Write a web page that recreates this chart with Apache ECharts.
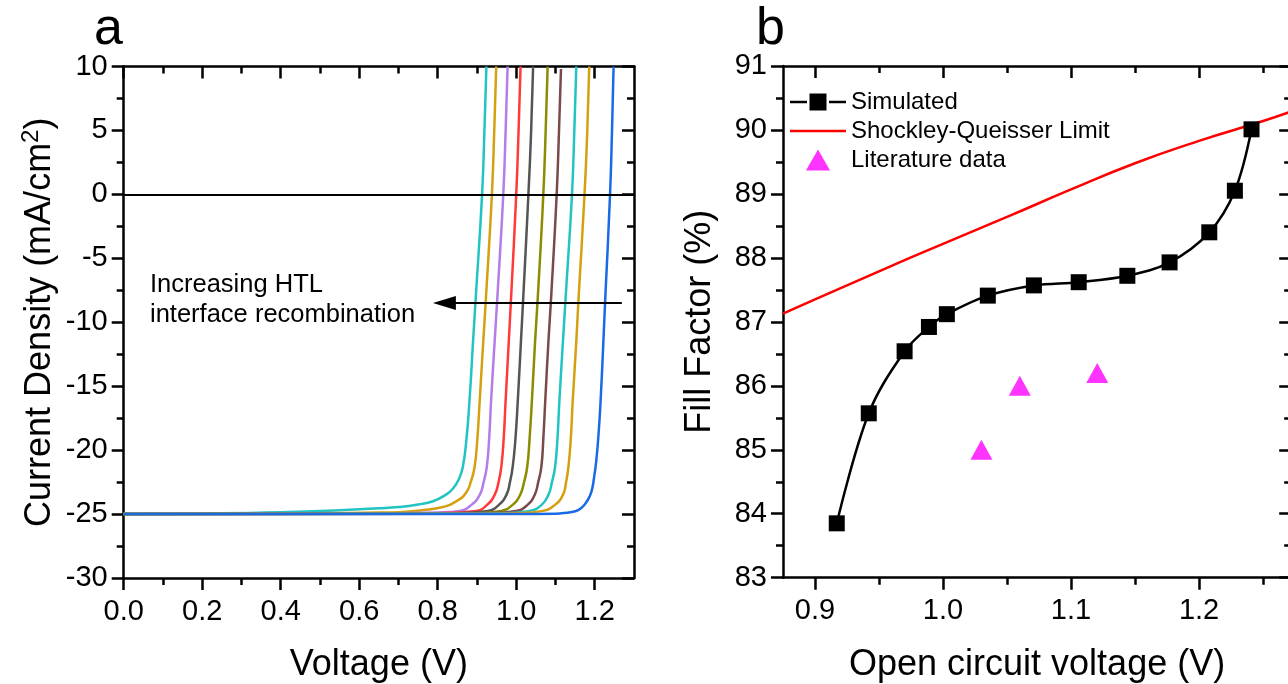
<!DOCTYPE html>
<html lang="en">
<head>
<meta charset="UTF-8">
<title>JV curves and fill factor</title>
<script src="https://cdn.jsdelivr.net/npm/echarts@6/dist/echarts.min.js"></script>
<style>
  html, body { margin: 0; padding: 0; background: #fff; }
</style>
</head>
<body>
<div id="main" style="width: 1288px;height: 684px"></div>
<script type="text/javascript">
  // ---- panel a: J-V curves, [voltage, current density] ----
  var jv1 = [[0, -25.0], [0.2, -24.95], [0.4, -24.85], [0.55, -24.7], [0.65, -24.55], [0.70, -24.45], [0.75, -24.25], [0.788, -24.0], [0.82, -23.5], [0.839, -23.0], [0.855, -22.2], [0.864, -21.3], [0.873, -19.2], [0.881, -16.1], [0.890, -11.5], [0.897, -8.0], [0.913, 0], [0.919, 5], [0.924, 10]];
  var jv2 = [[0, -25.0], [0.3, -24.97], [0.5, -24.93], [0.65, -24.88], [0.703, -24.85], [0.76, -24.7], [0.813, -24.45], [0.85, -23.95], [0.873, -23.3], [0.885, -22.4], [0.894, -21.3], [0.901, -19.1], [0.907, -16.1], [0.916, -11.5], [0.923, -8.0], [0.938, 0], [0.944, 5], [0.949, 10]];
  var jv3 = [[0, -25.0], [0.5, -24.97], [0.7, -24.93], [0.8, -24.88], [0.856, -24.75], [0.885, -24.3], [0.907, -23.5], [0.917, -22.5], [0.925, -21.3], [0.931, -19.1], [0.936, -16.1], [0.945, -11.5], [0.952, -8.0], [0.967, 0], [0.973, 5], [0.978, 10]];
  var jv4 = [[0, -25.0], [0.6, -24.97], [0.8, -24.93], [0.898, -24.75], [0.925, -24.3], [0.945, -23.5], [0.955, -22.5], [0.962, -21.3], [0.968, -19.1], [0.973, -16.1], [0.981, -11.5], [0.987, -8.0], [1.000, 0], [1.006, 5], [1.011, 10]];
  var jv5 = [[0, -25.0], [0.7, -24.97], [0.85, -24.93], [0.928, -24.75], [0.955, -24.3], [0.975, -23.5], [0.984, -22.5], [0.991, -21.3], [0.998, -19.1], [1.004, -16.1], [1.012, -11.5], [1.018, -8.0], [1.031, 0], [1.038, 5], [1.043, 10]];
  var jv6 = [[0, -25.0], [0.75, -24.97], [0.9, -24.93], [0.962, -24.75], [0.99, -24.3], [1.010, -23.5], [1.020, -22.5], [1.028, -21.3], [1.034, -19.1], [1.040, -16.1], [1.048, -11.5], [1.055, -8.0], [1.069, 0], [1.075, 5], [1.080, 10]];
  var jv7 = [[0, -25.0], [0.8, -24.97], [0.93, -24.93], [1.0, -24.75], [1.028, -24.3], [1.047, -23.5], [1.056, -22.5], [1.064, -21.3], [1.069, -19.1], [1.074, -16.1], [1.082, -11.5], [1.089, -8.0], [1.103, 0], [1.109, 5], [1.114, 9.8]];
  var jv8 = [[0, -25.0], [0.85, -24.98], [0.97, -24.93], [1.034, -24.75], [1.064, -24.3], [1.082, -23.5], [1.091, -22.5], [1.099, -21.3], [1.105, -19.1], [1.110, -16.1], [1.119, -11.5], [1.126, -8.0], [1.142, 0], [1.148, 5], [1.153, 10]];
  var jv9 = [[0, -25.0], [0.9, -24.98], [1.0, -24.93], [1.068, -24.75], [1.098, -24.3], [1.119, -23.5], [1.127, -22.5], [1.133, -21.3], [1.139, -19.1], [1.144, -16.1], [1.153, -11.5], [1.159, -8.0], [1.174, 0], [1.181, 5], [1.186, 10]];
  var jv10 = [[0, -25.0], [1.0, -25.0], [1.1, -24.97], [1.127, -24.9], [1.15, -24.78], [1.165, -24.55], [1.18, -24.0], [1.191, -23.3], [1.198, -22.2], [1.204, -20.8], [1.210, -18.6], [1.215, -16.1], [1.222, -11.5], [1.227, -8.0], [1.239, 0], [1.244, 5], [1.248, 10]];
  var jvCurves = [jv1, jv2, jv3, jv4, jv5, jv6, jv7, jv8, jv9, jv10];
  var jvColors = ['#22c3c3', '#d4a010', '#b57de8', '#ff3a3a', '#555555', '#8c8c00', '#7a4a4a', '#22c3c3', '#d4a010', '#1a6ae6'];

  var aXMajor = [0, 0.2, 0.4, 0.6, 0.8, 1.0, 1.2];
  var aXMinor = [0.1, 0.3, 0.5, 0.7, 0.9, 1.1];
  var aYMajor = [-30, -25, -20, -15, -10, -5, 0, 5, 10];
  var aYMinor = [-27.5, -22.5, -17.5, -12.5, -7.5, -2.5, 2.5, 7.5];
  var arrowFrom = [1.269, -8.5];
  var arrowTo = [0.817, -8.5];

  // ---- panel b: fill factor vs Voc ----
  var simVoc = [0.917, 0.942, 0.970, 0.989, 1.003, 1.035, 1.071, 1.106, 1.144, 1.177, 1.208, 1.228, 1.241];
  var simFF = [83.85, 85.57, 86.54, 86.92, 87.12, 87.41, 87.57, 87.62, 87.72, 87.93, 88.40, 89.05, 90.01];
  var sqVoc = [0.875, 0.9, 0.95, 1.0, 1.05, 1.1, 1.15, 1.2, 1.25, 1.272];
  var sqFF = [87.13, 87.35, 87.79, 88.22, 88.64, 89.07, 89.48, 89.83, 90.14, 90.29];
  var litVoc = [1.030, 1.060, 1.1205];
  var litFF = [85.0, 86.0, 86.2];

  var bXMajor = [0.9, 1.0, 1.1, 1.2];
  var bXMinor = [0.95, 1.05, 1.15, 1.25];
  var bYMajor = [83, 84, 85, 86, 87, 88, 89, 90, 91];
  var bYMinor = [83.5, 84.5, 85.5, 86.5, 87.5, 88.5, 89.5, 90.5];

  var FONT = "'Liberation Sans', Arial, sans-serif";

  function pairs(xs, ys) {
    var out = [];
    for (var i = 0; i < xs.length; i++) out.push([xs[i], ys[i]]);
    return out;
  }

  function mkAxis(o) {
    return {
      type: 'value',
      gridIndex: o.grid,
      position: o.pos,
      min: o.min,
      max: o.max,
      splitLine: { show: false },
      axisPointer: { show: false },
      axisLine: { show: !!o.line, onZero: false, lineStyle: { color: '#000', width: 2.5 } },
      axisTick: { show: true, inside: !!o.inside, length: o.len, customValues: o.ticks, lineStyle: { color: '#000', width: 2.5 } },
      axisLabel: o.labels ? {
        show: true, customValues: o.ticks, formatter: o.fmt, margin: o.margin,
        fontSize: 29, color: '#000', fontFamily: FONT
      } : { show: false },
      name: o.name || '',
      nameLocation: 'middle',
      nameGap: o.gap || 0,
      nameTextStyle: {
        fontSize: 36, color: '#000', fontFamily: FONT, lineHeight: 40,
        rich: { s: { fontSize: 24, verticalAlign: 'top', lineHeight: 24, fontFamily: FONT, color: '#000' } }
      }
    };
  }

  function one(v) { return v.toFixed(1); }
  function int(v) { return String(v); }

  var xAxes = [
    mkAxis({ grid: 0, pos: 'bottom', min: 0, max: 1.3, ticks: aXMajor, len: 12, line: true, labels: true, fmt: one, margin: 19, name: 'Voltage (V)', gap: 67 }),
    mkAxis({ grid: 0, pos: 'bottom', min: 0, max: 1.3, ticks: aXMinor, len: 7 }),
    mkAxis({ grid: 0, pos: 'top', min: 0, max: 1.3, ticks: aXMajor, len: 12, line: true, inside: true }),
    mkAxis({ grid: 0, pos: 'top', min: 0, max: 1.3, ticks: aXMinor, len: 7, inside: true }),
    mkAxis({ grid: 1, pos: 'bottom', min: 0.875, max: 1.272, ticks: bXMajor, len: 12, line: true, labels: true, fmt: one, margin: 19, name: 'Open circuit voltage (V)', gap: 67 }),
    mkAxis({ grid: 1, pos: 'bottom', min: 0.875, max: 1.272, ticks: bXMinor, len: 7 }),
    mkAxis({ grid: 1, pos: 'top', min: 0.875, max: 1.272, ticks: bXMajor, len: 12, line: true, inside: true }),
    mkAxis({ grid: 1, pos: 'top', min: 0.875, max: 1.272, ticks: bXMinor, len: 7, inside: true })
  ];
  var yAxes = [
    mkAxis({ grid: 0, pos: 'left', min: -30, max: 10, ticks: aYMajor, len: 12, line: true, labels: true, fmt: int, margin: 16, name: 'Current Density (mA/cm{s|2})', gap: 64 }),
    mkAxis({ grid: 0, pos: 'left', min: -30, max: 10, ticks: aYMinor, len: 7 }),
    mkAxis({ grid: 0, pos: 'right', min: -30, max: 10, ticks: aYMajor, len: 12, line: true, inside: true }),
    mkAxis({ grid: 0, pos: 'right', min: -30, max: 10, ticks: aYMinor, len: 7, inside: true }),
    mkAxis({ grid: 1, pos: 'left', min: 83, max: 91, ticks: bYMajor, len: 12, line: true, labels: true, fmt: int, margin: 16, name: 'Fill Factor (%)', gap: 63 }),
    mkAxis({ grid: 1, pos: 'left', min: 83, max: 91, ticks: bYMinor, len: 7 }),
    mkAxis({ grid: 1, pos: 'right', min: 83, max: 91, ticks: bYMajor, len: 12, line: true, inside: true }),
    mkAxis({ grid: 1, pos: 'right', min: 83, max: 91, ticks: bYMinor, len: 7, inside: true })
  ];

  var series = [];
  for (var i = 0; i < jvCurves.length; i++) {
    series.push({
      type: 'line',
      xAxisIndex: 0,
      yAxisIndex: 0,
      data: jvCurves[i],
      smooth: 0.5,
      symbol: 'none',
      lineStyle: { color: jvColors[i], width: 2.5 },
      itemStyle: { color: jvColors[i] },
      z: 3
    });
  }
  // zero line
  series[0].markLine = {
    silent: true, symbol: 'none', label: { show: false },
    lineStyle: { color: '#000', width: 2, type: 'solid' },
    data: [{ yAxis: 0 }]
  };
  // arrow
  series[1].markLine = {
    silent: true, label: { show: false },
    lineStyle: { color: '#000', width: 2, type: 'solid' },
    symbol: ['none', 'triangle'],
    symbolSize: [14, 23],
    data: [[{ coord: arrowFrom }, { coord: arrowTo }]]
  };

  series.push({
    name: 'Simulated',
    type: 'line',
    xAxisIndex: 4, yAxisIndex: 4,
    data: pairs(simVoc, simFF),
    smooth: 0.35,
    symbol: 'rect',
    symbolSize: 16,
    lineStyle: { color: '#000', width: 2.5 },
    itemStyle: { color: '#000' },
    z: 4
  });
  series.push({
    name: 'Shockley-Queisser Limit',
    type: 'line',
    xAxisIndex: 4, yAxisIndex: 4,
    data: pairs(sqVoc, sqFF),
    smooth: true,
    symbol: 'none',
    lineStyle: { color: '#ff0000', width: 2.5 },
    itemStyle: { color: '#ff0000' },
    z: 3
  });
  series.push({
    name: 'Literature data',
    type: 'scatter',
    xAxisIndex: 4, yAxisIndex: 4,
    data: pairs(litVoc, litFF),
    symbol: 'triangle',
    symbolSize: [22, 20],
    itemStyle: { color: '#ff00ff' },
    z: 4
  });

  var myChart = echarts.init(document.getElementById('main'), null, { renderer: 'canvas' });
  var option = {
    animation: false,
    backgroundColor: '#fff',
    textStyle: { fontFamily: FONT },
    grid: [
      { left: 123.7, top: 66.5, width: 510.3, height: 511.5, containLabel: false, outerBoundsMode: 'none' },
      { left: 783, top: 66, width: 508.2, height: 511.7, containLabel: false, outerBoundsMode: 'none' }
    ],
    legend: {
      left: 790,
      top: 90,
      padding: 0,
      orient: 'vertical',
      itemGap: 5,
      itemWidth: 56,
      itemHeight: 21,
      textStyle: { fontSize: 24, color: '#000', fontFamily: FONT },
      data: [
        { name: 'Simulated', icon: 'path://M0,9.3h17v2.4h-17z M19.5,2h17v17h-17z M39,9.3h17v2.4h-17z' },
        { name: 'Shockley-Queisser Limit', icon: 'path://M0,0h56v2.5h-56z' },
        { name: 'Literature data', icon: 'path://M11.5,0L23,20L0,20Z' }
      ]
    },
    xAxis: xAxes,
    yAxis: yAxes,
    series: series,
    graphic: [
      { type: 'text', left: 94, top: 4, style: { text: 'a', font: '52px ' + FONT, fill: '#000' } },
      { type: 'text', left: 756, top: 4, style: { text: 'b', font: '52px ' + FONT, fill: '#000' } },
      { type: 'text', left: 150, top: 272, style: { text: 'Increasing HTL', font: '25.5px ' + FONT, fill: '#000' } },
      { type: 'text', left: 150, top: 302, style: { text: 'interface recombination', font: '25.5px ' + FONT, fill: '#000' } }
    ]
  };
  myChart.setOption(option);
</script>
</body>
</html>
